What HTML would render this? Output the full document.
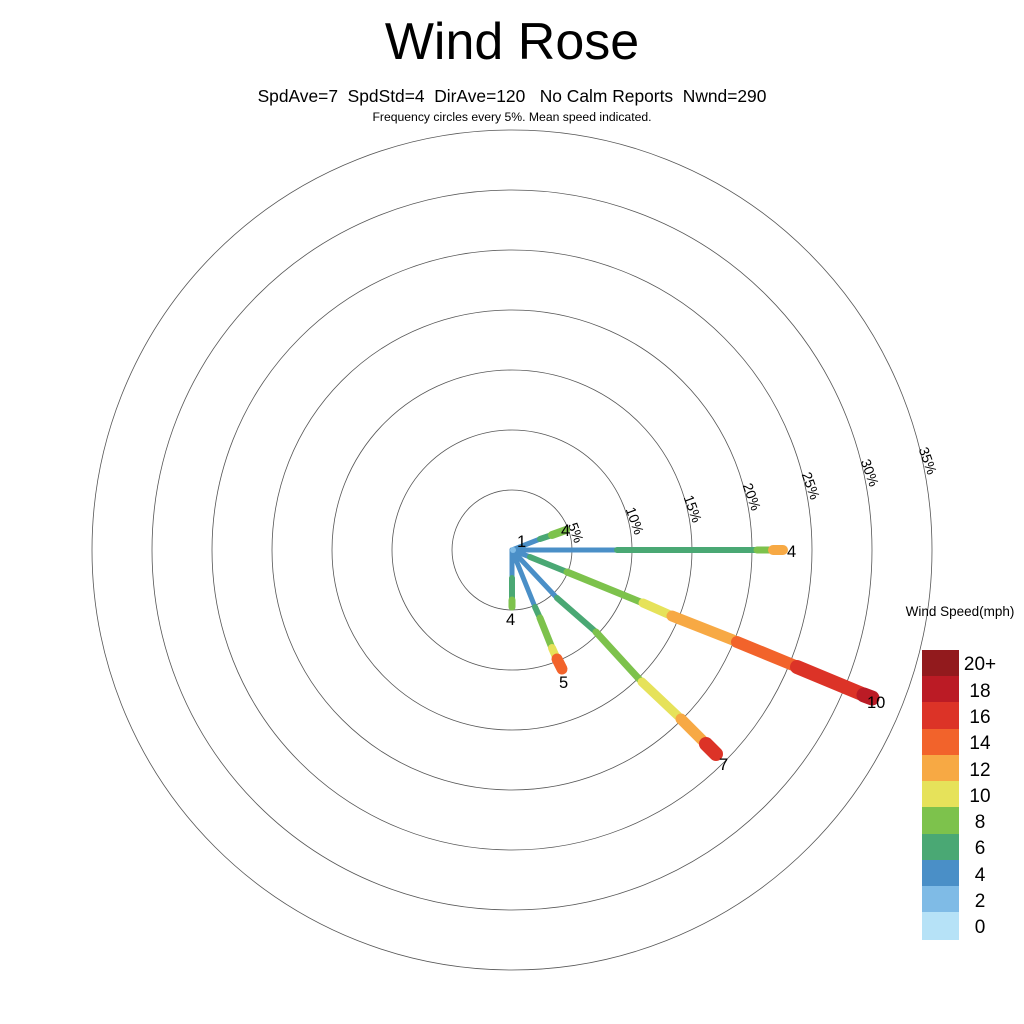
<!DOCTYPE html>
<html><head><meta charset="utf-8"><style>
html,body{margin:0;padding:0;background:#fff}
svg{display:block}
text{font-family:"Liberation Sans",Arial,sans-serif;fill:#000}
</style></head><body>
<svg width="1024" height="1024" viewBox="0 0 1024 1024" xmlns="http://www.w3.org/2000/svg">
<text x="512" y="59" font-size="52" text-anchor="middle">Wind Rose</text>
<text x="512" y="102" font-size="17.4" text-anchor="middle" xml:space="preserve">SpdAve=7  SpdStd=4  DirAve=120   No Calm Reports  Nwnd=290</text>
<text x="512" y="121" font-size="12.2" text-anchor="middle">Frequency circles every 5%. Mean speed indicated.</text>
<g fill="none" stroke="#555" stroke-width="0.8">
<circle cx="512" cy="550" r="60"/><circle cx="512" cy="550" r="120"/><circle cx="512" cy="550" r="180"/>
<circle cx="512" cy="550" r="240"/><circle cx="512" cy="550" r="300"/><circle cx="512" cy="550" r="360"/>
<circle cx="512" cy="550" r="420"/>
</g>
<g font-size="14" text-anchor="middle">
<text transform="translate(575,533) rotate(70)" dy="4">5%</text>
<text transform="translate(634,521) rotate(70)" dy="4">10%</text>
<text transform="translate(692,509) rotate(70)" dy="4">15%</text>
<text transform="translate(751,497) rotate(70)" dy="4">20%</text>
<text transform="translate(810,486) rotate(70)" dy="4">25%</text>
<text transform="translate(869,473) rotate(70)" dy="4">30%</text>
<text transform="translate(927,461) rotate(70)" dy="4">35%</text>
</g>
<g stroke-linecap="round" fill="none">
<line x1="512" y1="550" x2="540" y2="539" stroke="#4a8fc7" stroke-width="5"/>
<line x1="540" y1="539" x2="552" y2="535" stroke="#4aa874" stroke-width="6"/>
<line x1="552" y1="535" x2="566" y2="530" stroke="#7dc24c" stroke-width="8"/>
<line x1="512" y1="550" x2="617" y2="550" stroke="#4a8fc7" stroke-width="5"/>
<line x1="617" y1="550" x2="757" y2="550" stroke="#4aa874" stroke-width="6"/>
<line x1="757" y1="550" x2="770" y2="550" stroke="#7dc24c" stroke-width="7"/>
<line x1="773" y1="550" x2="783" y2="550" stroke="#f7a944" stroke-width="10"/>
<line x1="512" y1="550" x2="530" y2="557" stroke="#4a8fc7" stroke-width="5"/>
<line x1="530" y1="557" x2="567" y2="572" stroke="#4aa874" stroke-width="6"/>
<line x1="567" y1="572" x2="643" y2="603" stroke="#7dc24c" stroke-width="7"/>
<line x1="643" y1="603" x2="668" y2="614" stroke="#e6e25a" stroke-width="9"/>
<line x1="672" y1="616" x2="733" y2="640" stroke="#f7a944" stroke-width="11"/>
<line x1="737" y1="642" x2="793" y2="665" stroke="#f2632b" stroke-width="12"/>
<line x1="797" y1="667" x2="862" y2="694" stroke="#dc3327" stroke-width="14"/>
<line x1="864" y1="695" x2="872" y2="698" stroke="#bb1b25" stroke-width="15"/>
<line x1="512" y1="550" x2="557" y2="598" stroke="#4a8fc7" stroke-width="5"/>
<line x1="557" y1="598" x2="596" y2="632" stroke="#4aa874" stroke-width="6"/>
<line x1="596" y1="632" x2="640" y2="680" stroke="#7dc24c" stroke-width="7"/>
<line x1="642" y1="682" x2="678" y2="716" stroke="#e6e25a" stroke-width="9"/>
<line x1="681" y1="719" x2="702" y2="740" stroke="#f7a944" stroke-width="11"/>
<line x1="706" y1="744" x2="716" y2="754" stroke="#dc3327" stroke-width="14"/>
<line x1="512" y1="550" x2="535" y2="607" stroke="#4a8fc7" stroke-width="5"/>
<line x1="535" y1="607" x2="540" y2="618" stroke="#4aa874" stroke-width="6"/>
<line x1="540" y1="618" x2="552" y2="648" stroke="#7dc24c" stroke-width="7"/>
<line x1="552" y1="648" x2="556" y2="657" stroke="#e6e25a" stroke-width="8"/>
<line x1="557" y1="659" x2="562" y2="669" stroke="#f2632b" stroke-width="11"/>
<line x1="512" y1="550" x2="512" y2="578" stroke="#4a8fc7" stroke-width="5"/>
<line x1="512" y1="578" x2="512" y2="600" stroke="#4aa874" stroke-width="6"/>
<line x1="512" y1="600" x2="512" y2="607" stroke="#7dc24c" stroke-width="7"/>
<circle cx="513" cy="550" r="3" fill="#7fbbe6" stroke="none"/>
</g>
<g font-size="16.5">
<text x="517" y="547">1</text>
<text x="561" y="536">4</text>
<text x="787" y="557">4</text>
<text x="867" y="708">10</text>
<text x="719" y="770">7</text>
<text x="559" y="688">5</text>
<text x="506" y="625">4</text>
</g>
<text x="960" y="616" font-size="13.5" text-anchor="middle">Wind Speed(mph)</text>
<g>
<rect x="922" y="650" width="37" height="27" fill="#921a1d"/>
<rect x="922" y="676" width="37" height="27" fill="#bb1b25"/>
<rect x="922" y="702" width="37" height="28" fill="#dc3327"/>
<rect x="922" y="729" width="37" height="27" fill="#f2632b"/>
<rect x="922" y="755" width="37" height="27" fill="#f7a944"/>
<rect x="922" y="781" width="37" height="27" fill="#e6e25a"/>
<rect x="922" y="807" width="37" height="28" fill="#7dc24c"/>
<rect x="922" y="834" width="37" height="27" fill="#4aa874"/>
<rect x="922" y="860" width="37" height="27" fill="#4a8fc7"/>
<rect x="922" y="886" width="37" height="27" fill="#7fbbe6"/>
<rect x="922" y="912" width="37" height="28" fill="#b6e2f7"/>
</g>
<g font-size="19" text-anchor="middle">
<text x="980" y="670">20+</text>
<text x="980" y="697">18</text>
<text x="980" y="723">16</text>
<text x="980" y="749">14</text>
<text x="980" y="776">12</text>
<text x="980" y="802">10</text>
<text x="980" y="828">8</text>
<text x="980" y="854">6</text>
<text x="980" y="881">4</text>
<text x="980" y="907">2</text>
<text x="980" y="933">0</text>
</g>
</svg>
</body></html>
